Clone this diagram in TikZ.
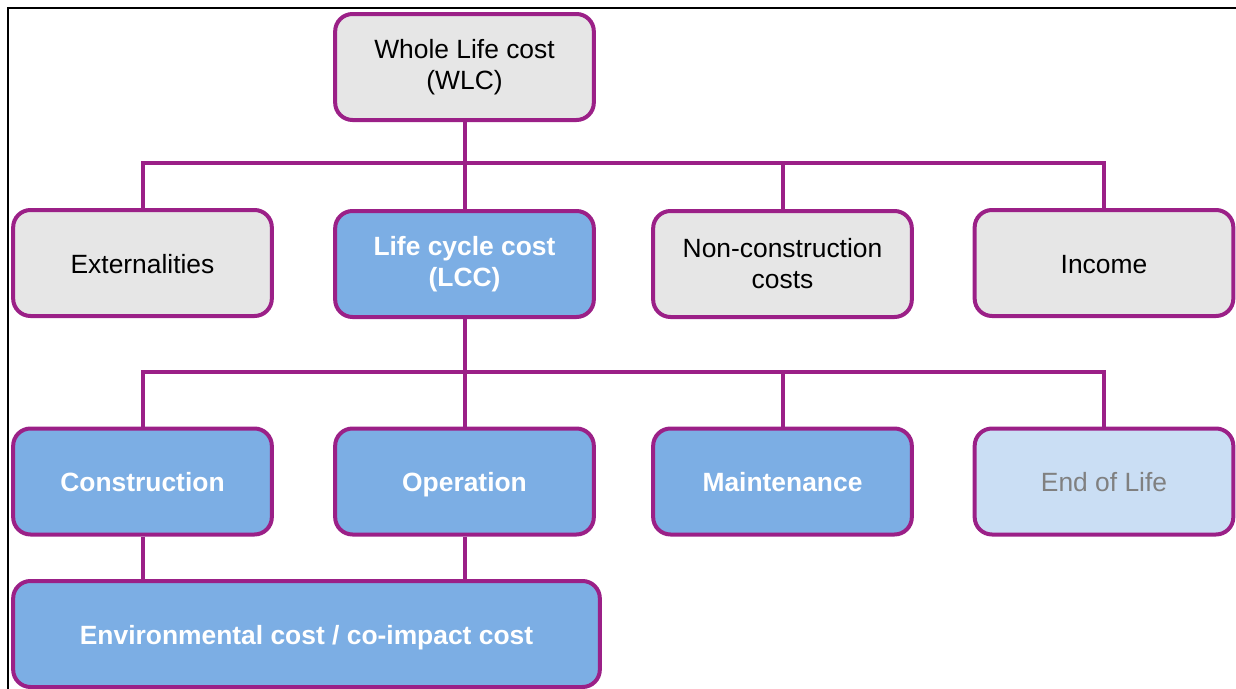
\documentclass[tikz,border=0pt]{standalone}
\usepackage{fontspec}
\setmainfont{Liberation Sans}
\usepackage{tikz}
\usetikzlibrary{positioning}

\definecolor{plum}{RGB}{155,32,135}
\definecolor{greyfill}{RGB}{230,230,230}
\definecolor{bluefill}{RGB}{124,174,228}
\definecolor{palefill}{RGB}{202,222,244}
\definecolor{greytext}{RGB}{128,128,128}

\begin{document}
\begin{tikzpicture}[
        x=0.75pt, y=-0.75pt,
        block/.style={
            rectangle,
            draw=plum,
            line width=3pt,
            rounded corners=13pt,
            minimum width=194pt,
            minimum height=79.5pt,
            text centered,
            align=center,
            font=\fontsize{19.8pt}{23.25pt}\selectfont
        },
        oneline/.style={text height=18pt, text depth=2.5pt},
        greybox/.style={block, fill=greyfill, text=black},
        bluebox/.style={block, fill=bluefill, text=white, font=\fontsize{19.8pt}{23.25pt}\selectfont\bfseries},
        palebox/.style={block, fill=palefill, text=greytext},
        link/.style={draw=plum, line width=3pt}
    ]
        \useasboundingbox (0,0) rectangle (1236,689);
        % frame
        \draw[line width=1.5pt] (7.5,689) -- (7.5,7.5) -- (1236,7.5);

        % Nodes
        \node [greybox] (wlc) at (464.5,67) {Whole Life cost\\(WLC)};

        \node [greybox, oneline] (ext) at (142.5,263) {Externalities};
        \node [bluebox] (lcc) at (464.5,264) {Life cycle cost\\(LCC)};
        \node [greybox] (ncc) at (782.5,264) {Non-construction\\costs};
        \node [greybox, oneline] (inc) at (1104,263) {Income};

        \node [bluebox, oneline] (con) at (142.5,481.5) {Construction};
        \node [bluebox, oneline] (opr) at (464.5,481.5) {Operation};
        \node [bluebox, oneline] (mnt) at (782.5,481.5) {Maintenance};
        \node [palebox, oneline] (eol) at (1104,481.5) {End of Life};

        \node [bluebox, oneline, minimum width=440pt] (env) at (306.5,634) {Environmental cost / co-impact cost};

        \coordinate (bus1) at (464.5,163);
        \coordinate (bus2) at (464.5,372);

        % Paths
        \path [link] (wlc.south) -- (lcc.north);
        \path [link] (ext.north) |- (bus1) -| (inc.north);
        \path [link] (ncc.north) -- (ncc.north |- bus1);

        \path [link] (lcc.south) -- (opr.north);
        \path [link] (con.north) |- (bus2) -| (eol.north);
        \path [link] (mnt.north) -- (mnt.north |- bus2);

        \path [link] (con.south) -- (con.south |- env.north);
        \path [link] (opr.south) -- (opr.south |- env.north);
    \end{tikzpicture}
\end{document}
